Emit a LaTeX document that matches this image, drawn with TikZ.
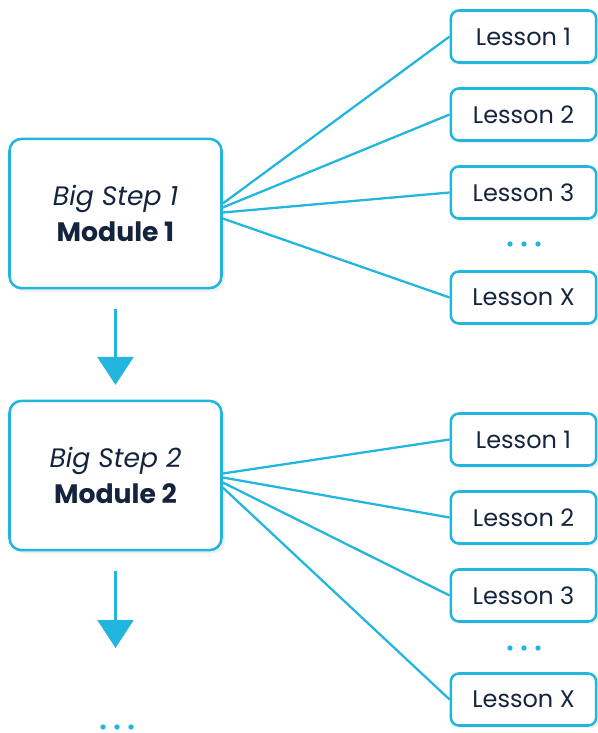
\documentclass[tikz,border=0pt]{standalone}
\usepackage{fontspec}
\setmainfont{Poppins}
\usetikzlibrary{arrows.meta,calc,shadows}
\definecolor{stepblue}{HTML}{22B5DE}
\definecolor{stepnavy}{HTML}{15243E}

\begin{document}
\begin{tikzpicture}[x=0.75pt, y=-0.75pt, font=\fontsize{18}{24}\selectfont, text=stepnavy,
	module/.style={draw=stepblue, line width=1.9pt, rounded corners=9pt, fill=white, align=center,
		font=\fontsize{20}{27}\selectfont, minimum width=159pt, minimum height=112pt,
		drop shadow={shadow xshift=2.5pt, shadow yshift=-2.5pt, opacity=0.12}},
	lesson/.style={draw=stepblue, line width=1.9pt, rounded corners=6pt, fill=white,
		minimum width=109pt, minimum height=39pt,
		drop shadow={shadow xshift=2pt, shadow yshift=-2pt, opacity=0.12}},
	link/.style={draw=stepblue, line width=1.7pt},
	flow/.style={draw=stepblue, line width=1.9pt, -{Triangle[length=21pt, width=27pt]}}]
	\useasboundingbox (0, 0) rectangle (598, 733);

	% modules
	\node[module] (m1) at (115.5, 213.5) {{\itshape Big Step 1}\\{\bfseries Module 1}};
	\node[module] (m2) at (115.5, 475.5) {{\itshape Big Step 2}\\{\bfseries Module 2}};
	\coordinate (next) at (115.5, 648);

	% lessons of module 1
	\foreach \n/\y/\t in {a1/36.5/1, a2/114.5/2, a3/192.5/3, ax/297.5/X}
		\node[lesson] (\n) at (523.5, \y) {Lesson \t};

	% lessons of module 2
	\foreach \n/\y/\t in {b1/439.5/1, b2/517.5/2, b3/595.5/3, bx/699.5/X}
		\node[lesson] (\n) at (523.5, \y) {Lesson \t};

	% fan out
	\foreach \n/\dy in {a1/-10, a2/-6, a3/-1, ax/5}
		\draw[link] ($(m1.east)+(0, \dy)$) -- (\n.west);
	\foreach \n/\dy in {b1/-2, b2/2, b3/7, bx/12}
		\draw[link] ($(m2.east)+(0, \dy)$) -- (\n.west);

	% steps
	\draw[flow, shorten <=15pt, shorten >=11pt] (m1) -- (m2);
	\draw[flow, shorten <=15pt] (m2) -- (next);

	% more
	\foreach \x in {-14, 0, 14} {
		\fill[stepblue] (524+\x, 244) circle (2pt);
		\fill[stepblue] (524+\x, 648) circle (2pt);
		\fill[stepblue] (117+\x, 727) circle (2pt);
	}
\end{tikzpicture}
\end{document}
